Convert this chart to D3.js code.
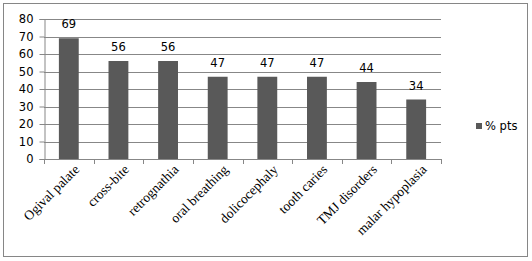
<!DOCTYPE html>
<html><head><meta charset="utf-8">
<script src="https://cdn.jsdelivr.net/npm/d3@7"></script>
<style>body{margin:0;background:#fff}</style>
</head><body>
<svg id="c" width="532" height="261"></svg>
<script>
const categories = ["Ogival palate","cross-bite","retrognathia","oral breathing","dolicocephaly","tooth caries","TMJ disorders","malar hypoplasia"];
const values = [69,56,56,47,47,47,44,34];
const yTicks = [0,10,20,30,40,50,60,70,80];
const seriesName = "% pts";

(function(){
const svg = d3.select("#c");
svg.append("rect").attr("x",3.5).attr("y",3.5).attr("width",524).attr("height",253)
  .attr("fill","#fff").attr("stroke","#868686");

const pLeft=44, pRight=441, pTop=19, pBottom=159;
const x = d3.scaleBand().domain(categories).range([pLeft,pRight]).paddingInner(0.6).paddingOuter(0.3);
const xb = d3.scaleBand().domain(categories).range([pLeft,pRight]);
const y = d3.scaleLinear().domain([0,80]).range([pBottom,pTop]);

svg.append("g").selectAll("line").data(yTicks.filter(d=>d>0)).join("line")
  .attr("x1",pLeft).attr("x2",pRight).attr("y1",d=>Math.round(y(d))+0.5).attr("y2",d=>Math.round(y(d))+0.5)
  .attr("stroke","#878787");

svg.append("g").selectAll("rect").data(values).join("rect")
  .attr("x",(d,i)=>x(categories[i])).attr("width",x.bandwidth())
  .attr("y",d=>y(d)).attr("height",d=>pBottom-y(d)).attr("fill","#595959");

const ya = svg.append("g").attr("transform",`translate(${pLeft+0.5},0)`)
  .call(d3.axisLeft(y).tickValues(yTicks).tickSize(5).tickPadding(6));
ya.select(".domain").attr("stroke","#878787");
ya.selectAll(".tick line").attr("stroke","#878787");
ya.selectAll("text").attr("font-family","DejaVu Sans").attr("font-size",11.5).attr("fill","#000");

const xg = svg.append("g");
xg.append("line").attr("x1",pLeft).attr("x2",pRight).attr("y1",pBottom+0.5).attr("y2",pBottom+0.5).attr("stroke","#878787");
const bounds = categories.map(c=>xb(c)).concat([pRight]);
xg.selectAll("line.t").data(bounds).join("line").attr("class","t")
  .attr("x1",d=>Math.round(d)+0.5).attr("x2",d=>Math.round(d)+0.5).attr("y1",pBottom).attr("y2",pBottom+5).attr("stroke","#878787");
xg.selectAll("text").data(categories).join("text")
  .attr("transform",d=>`translate(${x(d)+x.bandwidth()/2+8},${pBottom+8}) rotate(-45)`)
  .attr("text-anchor","end").attr("dy","0.35em")
  .attr("font-family","Liberation Serif").attr("font-size",13.5).text(d=>d);

svg.append("g").selectAll("text").data(values).join("text")
  .attr("x",(d,i)=>x(categories[i])+x.bandwidth()/2).attr("y",d=>y(d)-10)
  .attr("text-anchor","middle").attr("font-family","DejaVu Sans").attr("font-size",11.5).text(d=>d);

svg.append("rect").attr("x",476).attr("y",123).attr("width",6).attr("height",6).attr("fill","#595959");
svg.append("text").attr("x",485).attr("y",130).attr("font-family","DejaVu Sans").attr("font-size",11.5).text(seriesName);
})();
</script>
</body></html>
